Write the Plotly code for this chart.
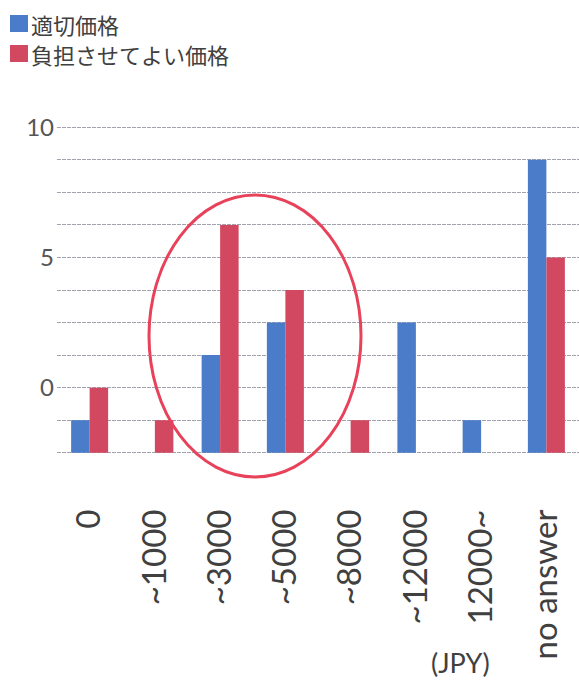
import plotly.graph_objects as go

# Price bands (JPY) and answer counts per band
categories = ["0", "~1000", "~3000", "~5000", "~8000", "~12000", "12000~", "no answer"]
fair_price = [1, 0, 3, 4, 0, 4, 1, 9]          # 適切価格
acceptable_price = [2, 1, 7, 5, 1, 0, 0, 6]    # 負担させてよい価格

series_names = ["適切価格", "負担させてよい価格"]
series_colors = ["#4a7cc9", "#d24860"]

# y tick labels as printed on the axis
y_tick_vals = list(range(0, 11))
y_tick_text = ["", "", "0", "", "", "", "5", "", "", "", "10"]

W, H = 579, 681
ML, MR, MT, MB = 57, 0, 124, 225
PW, PH = W - ML - MR, H - MT - MB


def px_x(px):
    return (px - ML) / PW


def px_y(py):
    return (H - MB - py) / PH


fig = go.Figure()
for name, vals, col in zip(series_names, [fair_price, acceptable_price], series_colors):
    fig.add_trace(go.Bar(x=categories, y=vals, name=name, marker_color=col,
                         marker_line_width=0, showlegend=False))

fig.update_layout(
    width=W, height=H,
    margin=dict(l=ML, r=MR, t=MT, b=MB),
    paper_bgcolor="white", plot_bgcolor="white",
    barmode="group", bargap=0.433, bargroupgap=0,
    font=dict(family="Lato, Open Sans, sans-serif", color="#404040"),
    xaxis=dict(
        type="category", tickangle=-90, showgrid=False, showline=False,
        ticks="", ticklabelstandoff=46,
        tickfont=dict(size=33, color="#404040"),
    ),
    yaxis=dict(
        range=[-0.1, 10.1], tickmode="array", tickvals=y_tick_vals, ticktext=y_tick_text,
        showgrid=True, gridcolor="#a2a2ae", gridwidth=1, griddash="4px,1px",
        zeroline=False, showline=False, ticks="", ticklabelstandoff=2,
        tickfont=dict(size=24, color="#555555"),
    ),
)

# Legend drawn as colour swatches with labels
rows_y = [(15, 32), (45, 62)]
for (y0, y1), name, col in zip(rows_y, series_names, series_colors):
    fig.add_shape(type="rect", xref="paper", yref="paper",
                  x0=px_x(10), x1=px_x(28), y0=px_y(y1), y1=px_y(y0),
                  fillcolor=col, line_width=0)
    fig.add_annotation(xref="paper", yref="paper", x=px_x(31), y=px_y((y0 + y1) / 2),
                       xanchor="left", yanchor="middle", showarrow=False, text=name,
                       borderpad=0, borderwidth=0,
                       font=dict(family="Noto Sans CJK JP", size=22, color="#404040"))

# Highlight ring around the ~3000 and ~5000 bands
fig.add_shape(type="circle", xref="paper", yref="paper",
              x0=px_x(149), x1=px_x(361), y0=px_y(477), y1=px_y(195),
              line=dict(color="#e8415a", width=3), layer="above")

# Unit label
fig.add_annotation(xref="paper", yref="paper", x=px_x(460), y=px_y(662),
                   xanchor="center", yanchor="middle", showarrow=False, text="(JPY)",
                   font=dict(size=27, color="#404040"))

fig.write_html("out.html", config={"displayModeBar": False})
